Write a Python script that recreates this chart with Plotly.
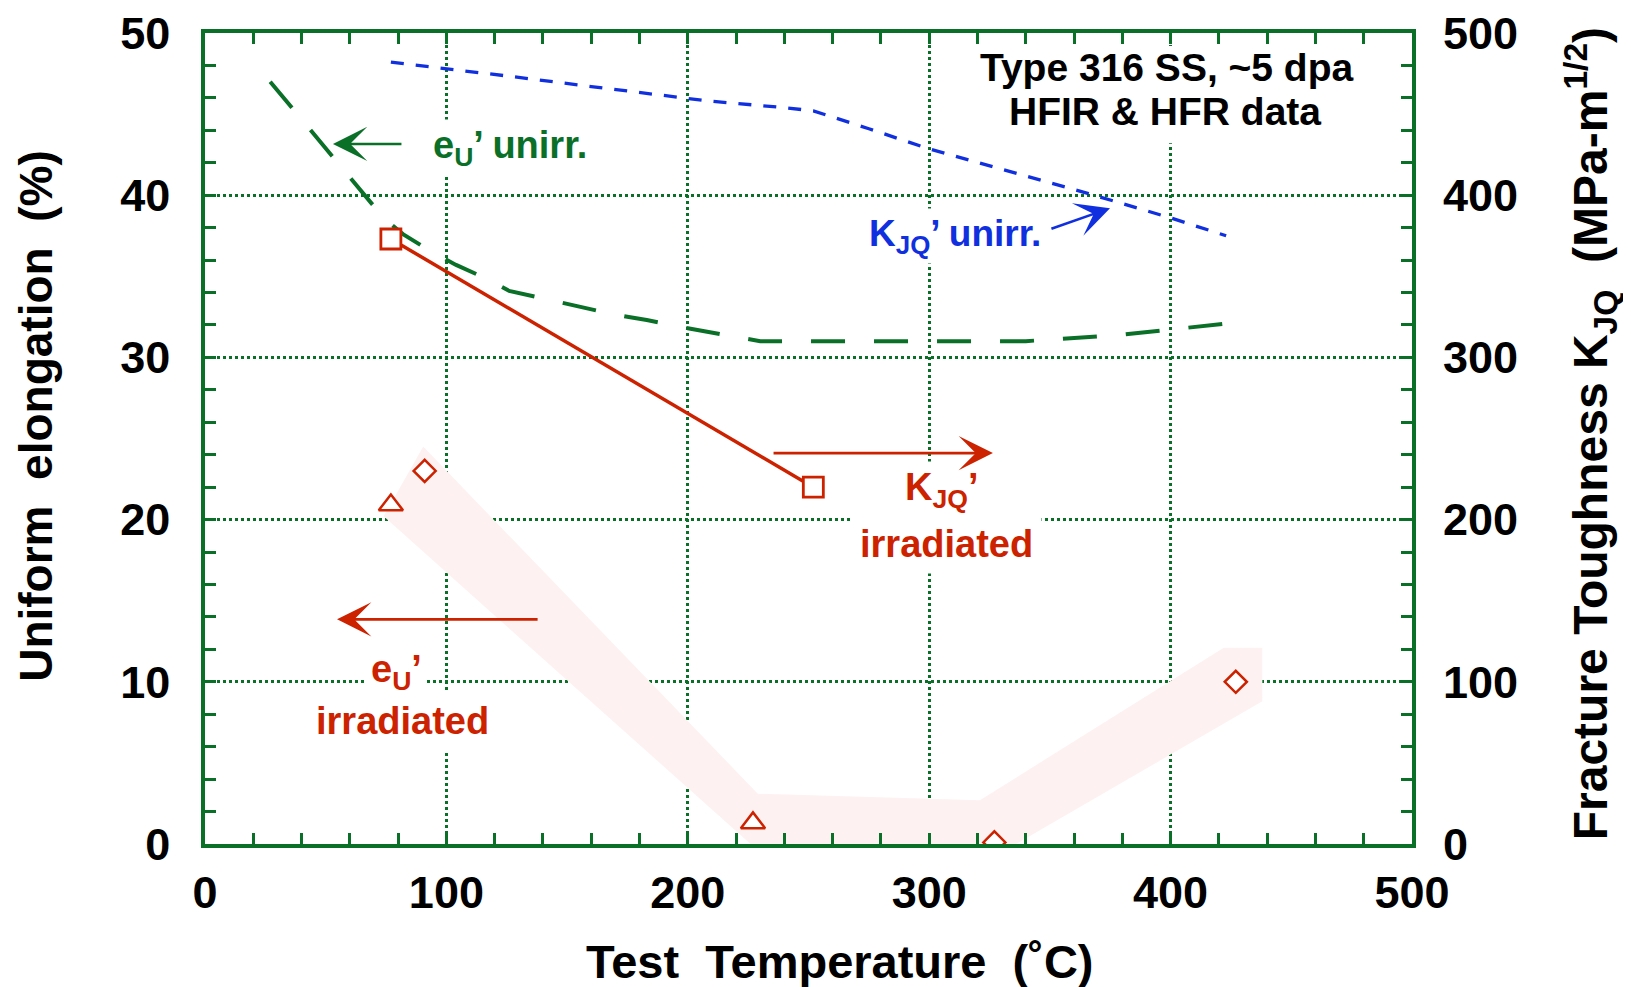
import plotly.graph_objects as go

# ---------------- data ----------------
# Uniform elongation, unirradiated (left axis, %)
temp_eu_unirr = [27, 74, 82, 94, 104, 116, 126, 138, 148, 160, 171, 183, 200, 230, 340, 380, 424]
eu_unirr = [47.0, 38.6, 37.6, 36.5, 35.7, 34.9, 34.1, 33.7, 33.4, 33.0, 32.6, 32.3, 31.8, 31.0, 31.0, 31.4, 32.1]

# Fracture toughness K_JQ, unirradiated (right axis, MPa-m^1/2)
temp_k_unirr = [77, 100, 128, 160, 192, 209, 240, 252, 275, 299, 330, 366, 400, 423]
k_unirr = [482, 478, 473, 467, 461, 458, 454, 452, 441, 429, 416, 401, 386, 375]

# Fracture toughness K_JQ, irradiated (right axis)
temp_k_irr = [77, 252]
k_irr = [373, 220]

# Uniform elongation, irradiated (left axis) - triangles and diamonds
temp_eu_irr_tri = [77, 227]
eu_irr_tri = [20.9, 1.3]
temp_eu_irr_dia = [91, 327, 427]
eu_irr_dia = [23.0, 0.1, 10.0]

# scatter band of irradiated uniform elongation
band_temp = [74, 90.4, 229, 321, 422, 438, 438, 336, 226, 74]
band_eu = [20.2, 24.5, 3.1, 2.7, 12.1, 12.1, 8.8, 0.0, 0.0, 20.2]

x_ticks = [0, 100, 200, 300, 400, 500]
y_ticks = [0, 10, 20, 30, 40, 50]
y2_ticks = [0, 100, 200, 300, 400, 500]

# ---------------- styles ----------------
GREEN = "#0A7028"
BLUE = "#1030E0"
RED = "#CC2200"
FONT = "Liberation Sans, Arial, Helvetica, sans-serif"

fig = go.Figure()

fig.add_trace(go.Scatter(x=band_temp, y=band_eu, mode="lines", fill="toself",
                         fillcolor="rgb(253,242,241)", line=dict(width=0),
                         hoverinfo="skip", showlegend=False))

fig.add_trace(go.Scatter(x=temp_eu_unirr, y=eu_unirr, mode="lines",
                         line=dict(color=GREEN, width=4, dash="34px,29px"),
                         showlegend=False))

fig.add_trace(go.Scatter(x=temp_eu_irr_tri, y=eu_irr_tri, mode="markers",
                         marker=dict(symbol="triangle-up", size=21, color="white",
                                     line=dict(color=RED, width=2.5)),
                         showlegend=False))

fig.add_trace(go.Scatter(x=temp_eu_irr_dia, y=eu_irr_dia, mode="markers",
                         marker=dict(symbol="diamond", size=17, color="white",
                                     line=dict(color=RED, width=2.5)),
                         showlegend=False))

fig.add_trace(go.Scatter(x=temp_k_unirr, y=k_unirr, mode="lines", yaxis="y2",
                         line=dict(color=BLUE, width=3.3, dash="13px,12px"),
                         showlegend=False))

fig.add_trace(go.Scatter(x=temp_k_irr, y=k_irr, mode="lines+markers", yaxis="y2",
                         line=dict(color=RED, width=3.5),
                         marker=dict(symbol="square", size=20, color="white",
                                     line=dict(color=RED, width=2.8)),
                         showlegend=False))

tickfont = dict(family=FONT, size=45, color="black", weight="bold")

common = dict(showline=True, linecolor=GREEN, linewidth=3.5, mirror="ticks",
              ticks="inside", ticklen=11, tickwidth=3, tickcolor=GREEN,
              showgrid=True, gridcolor=GREEN, gridwidth=2.5, griddash="dot",
              zeroline=False, tickfont=tickfont, ticklabeloverflow="allow",
              automargin=False)

# the page body adds an 8 px margin, so the figure is 8 px smaller and the
# margins are shifted to keep the plot area where the reference has it
fig.update_layout(
    width=1623, height=979,
    margin=dict(l=197, r=219, t=25, b=143),
    plot_bgcolor="white", paper_bgcolor="white",
    showlegend=False,
    xaxis=dict(range=[0, 500], tickvals=x_ticks, ticklabelstandoff=6,
               minor=dict(dtick=20, ticks="inside", ticklen=11, tickwidth=3,
                          tickcolor=GREEN, showgrid=False),
               **common),
    yaxis=dict(range=[0, 50], tickvals=y_ticks, ticklabelstandoff=22,
               minor=dict(dtick=2, ticks="inside", ticklen=11, tickwidth=3,
                          tickcolor=GREEN, showgrid=False),
               **common),
    yaxis2=dict(range=[0, 500], tickvals=y2_ticks, overlaying="y", side="right",
                showgrid=False, showline=False, zeroline=False, ticks="",
                ticklabelstandoff=30, tickfont=tickfont, ticklabeloverflow="allow",
                automargin=False),
)

# white panel behind the two-line caption (hides the grid there)
fig.add_shape(type="rect", xref="x", yref="y", x0=313, x1=484, y0=43.2, y1=49.2,
              fillcolor="white", line=dict(width=0), layer="above")

def txt(text, x, y, color, size, xref="x", yref="y", angle=0, bg="white", pad=4):
    fig.add_annotation(text=text, x=x, y=y, xref=xref, yref=yref, showarrow=False,
                       xanchor="center", yanchor="middle", textangle=angle,
                       bgcolor=bg, borderpad=pad,
                       font=dict(family=FONT, size=size, color=color, weight="bold"))

def arrow(x_tip, y_tip, x_tail, y_tail, color):
    fig.add_annotation(text="", x=x_tip, y=y_tip, ax=x_tail, ay=y_tail,
                       xref="x", yref="y", axref="x", ayref="y",
                       showarrow=True, arrowhead=3, arrowsize=2.2, arrowwidth=2.6,
                       arrowcolor=color, standoff=0, startstandoff=0)

CLEAR = "rgba(0,0,0,0)"

# labels inside the plot
txt("Type 316 SS, ~5 dpa", 398.5, 47.85, "black", 39, bg=CLEAR, pad=0)
txt("HFIR &amp; HFR data", 397.5, 45.15, "black", 39, bg=CLEAR, pad=0)
txt("e<sub>U</sub>’ unirr.", 126.3, 42.9, GREEN, 38)
txt("K<sub>JQ</sub>’ unirr.", 310.7, 37.5, BLUE, 37)
txt("K<sub>JQ</sub>’", 305.1, 21.8, RED, 38)
txt("irradiated", 307.0, 18.5, RED, 38, pad=8)
txt("e<sub>U</sub>’", 79.5, 10.6, RED, 38)
txt("irradiated", 82.0, 7.6, RED, 38, pad=8)

arrow(53.0, 43.16, 82.0, 43.16, GREEN)
arrow(374.9, 39.2, 350.0, 37.9, BLUE)
arrow(326.4, 24.1, 234.9, 24.1, RED)
arrow(54.7, 13.85, 138.4, 13.85, RED)

# axis titles
txt("Test\u00a0 Temperature\u00a0 (˚C)", 0.526, -0.145, "black", 47,
    xref="paper", yref="paper", bg=CLEAR, pad=0)
txt("Uniform\u00a0 elongation\u00a0 (%)", -0.140, 0.528, "black", 46,
    xref="paper", yref="paper", angle=-90, bg=CLEAR, pad=0)
txt("Fracture Toughness K<sub>JQ</sub>\u00a0 (MPa-m<sup>1/2</sup>)", 1.148, 0.506, "black", 48,
    xref="paper", yref="paper", angle=-90, bg=CLEAR, pad=0)

fig.write_html("out.html")
